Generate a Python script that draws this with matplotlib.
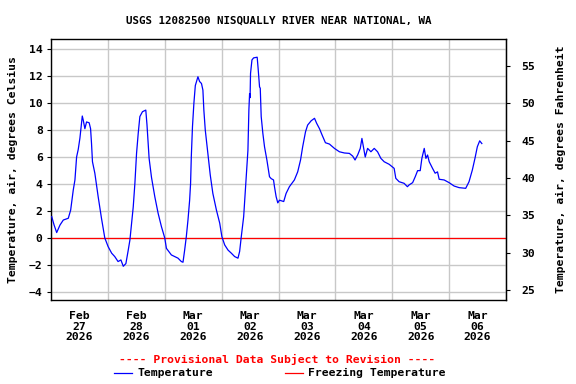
import matplotlib
matplotlib.use("Agg")
import matplotlib.pyplot as plt
import matplotlib.dates as mdates
from matplotlib.lines import Line2D
import pandas as pd

title = "USGS 12082500 NISQUALLY RIVER NEAR NATIONAL, WA"
start = "2026-02-27"
hours = [0.3, 1.3, 2.4, 3.8, 5.2, 7.3, 8.3, 9.4, 10.1, 10.8, 11.5, 12.2, 13.2, 13.6, 14.3, 15.0,
         16.1, 16.7, 17.1, 17.5, 18.5, 19.9, 21.3, 22.7, 24.1, 25.6, 26.9, 28.3, 29.5, 30.5, 31.6,
         32.5, 33.3, 34.0, 34.7, 35.4, 36.1, 36.8, 37.5, 38.6, 40.0, 40.5, 41.4, 42.4, 43.8, 45.2,
         46.6, 48.0, 48.7, 50.8, 52.2, 53.6, 55.0, 55.7, 56.4, 57.1, 57.8, 58.5, 58.9, 59.2, 59.7,
         60.3, 60.9, 62.0, 62.7, 63.5, 64.1, 64.5, 65.1, 66.2, 67.2, 68.3, 69.8, 71.2, 72.1, 73.3,
         74.7, 76.1, 77.5, 78.9, 79.6, 80.3, 81.3, 82.1, 83.1, 83.5, 83.8, 84.0, 84.2, 84.8, 85.5,
         87.0, 87.4, 88.0, 88.3, 88.7, 89.4, 90.1, 91.1, 92.2, 92.9, 93.9, 94.3, 95.0, 95.7, 96.4,
         98.2, 99.2, 100.6, 102.7, 104.1, 105.3, 106.2, 107.4, 108.3, 109.8, 111.2, 112.1, 113.3,
         114.4, 115.8, 117.5, 119.6, 121.7, 123.8, 125.9, 127.3, 128.3, 129.4, 130.5, 131.2, 131.7,
         132.6, 133.6, 135.0, 136.4, 137.8, 139.2, 140.6, 142.7, 144.8, 145.5, 146.9, 149.0, 150.4,
         151.1, 152.6, 153.7, 154.7, 155.8, 156.5, 157.5, 158.2, 158.9, 159.6, 161.0, 162.1, 163.1,
         163.8, 165.9, 168.0, 170.1, 172.2, 175.0, 176.4, 177.8, 178.9, 179.9, 180.9, 181.8]
temps_c = [1.58, 0.96, 0.4, 0.96, 1.33, 1.46, 2.07, 3.56, 4.3, 6.0, 6.57, 7.4, 9.04, 8.74, 8.1, 8.6,
           8.54, 8.1, 7.0, 5.65, 4.8, 3.06, 1.46, 0.0, -0.64, -1.13, -1.38, -1.75, -1.63, -2.1, -1.9,
           -1.0, -0.15, 1.09, 2.3, 4.05, 6.27, 7.75, 9.0, 9.36, 9.48, 8.4, 5.9, 4.5, 3.06, 1.83,
           0.84, 0.0, -0.77, -1.26, -1.38, -1.5, -1.75, -1.8, -0.9, 0.1, 1.33, 2.8, 4.05, 6.0, 8.25,
           10.0, 11.3, 11.95, 11.6, 11.45, 10.96, 9.48, 8.0, 6.27, 4.67, 3.3, 2.07, 1.09, 0.1, -0.52,
           -0.9, -1.13, -1.38, -1.5, -1.0, 0.1, 1.58, 3.8, 6.5, 9.48, 10.7, 10.4, 12.2, 13.2, 13.35,
           13.4, 12.57, 11.2, 11.1, 9.0, 7.75, 6.76, 5.78, 4.54, 4.4, 4.3, 3.8, 3.06, 2.6, 2.8,
           2.7, 3.3, 3.8, 4.3, 4.9, 5.78, 6.76, 7.87, 8.37, 8.69, 8.87, 8.5, 8.1,
           7.63, 7.06, 6.96, 6.64, 6.39, 6.3, 6.27, 6.07, 5.78, 6.15, 6.64, 7.38, 6.9,
           6.0, 6.64, 6.39, 6.64, 6.39, 5.9, 5.65, 5.46, 5.16, 4.42, 4.17, 4.05, 3.8,
           3.93, 4.1, 4.54, 4.99, 4.99, 5.9, 6.64, 5.9, 6.15, 5.65, 5.16, 4.8, 4.9,
           4.35, 4.3, 4.1, 3.85, 3.73, 3.68, 4.17, 5.04, 5.9, 6.76, 7.2, 7.0]
freezing_c = 0.0
left_ticks = [-4, -2, 0, 2, 4, 6, 8, 10, 12, 14]
right_ticks_f = [25, 30, 35, 40, 45, 50, 55]

FONT = "DejaVu Sans Mono"
fs = 8.2

times = pd.Timestamp(start) + pd.to_timedelta(hours, unit="h")
t0 = pd.Timestamp(start)
t1 = t0 + pd.Timedelta(days=8)

fig = plt.figure(figsize=(5.76, 3.84), dpi=100)
ax = fig.add_axes([51 / 576, 1 - 300 / 384, 455 / 576, 261 / 384])

ax.axhline(freezing_c, color="#ff0000", lw=0.9, zorder=2)
ax.plot(times, temps_c, color="#0000ff", lw=0.9, zorder=3)

ax.set_xlim(t0, t1)
ax.set_ylim(-4.6, 14.75)
ax.set_yticks(left_ticks)
ax.grid(True, color="#c8c8c8", lw=1.0, zorder=0)
ax.set_axisbelow(True)

ax.xaxis.set_major_locator(mdates.DayLocator())
ax.xaxis.set_major_formatter(plt.NullFormatter())
ax.xaxis.set_minor_locator(mdates.HourLocator(byhour=[12]))
ax.xaxis.set_minor_formatter(mdates.DateFormatter("%b\n%d\n%Y"))
ax.tick_params(axis="x", which="major", length=0)
ax.tick_params(axis="x", which="minor", length=0, pad=8)
ax.tick_params(axis="y", length=3, direction="out", pad=3)
for lab in ax.get_xticklabels(minor=True) + ax.get_yticklabels():
    lab.set_fontfamily(FONT)
    lab.set_fontweight("bold")
    lab.set_fontsize(fs)
for lab in ax.get_xticklabels(minor=True):
    lab.set_linespacing(1.05)

for s in ax.spines.values():
    s.set_color("black")
    s.set_linewidth(1.0)

ax.set_ylabel("Temperature, air, degrees Celsius", fontfamily=FONT, fontweight="bold",
              fontsize=fs, labelpad=8)

sec = ax.secondary_yaxis("right", functions=(lambda c: c * 9 / 5 + 32, lambda f: (f - 32) * 5 / 9))
sec.set_yticks(right_ticks_f)
sec.tick_params(length=3, direction="out", pad=8)
for lab in sec.get_yticklabels():
    lab.set_fontfamily(FONT)
    lab.set_fontweight("bold")
    lab.set_fontsize(fs)
sec.set_ylabel("Temperature, air, degrees Fahrenheit", fontfamily=FONT, fontweight="bold",
               fontsize=fs, labelpad=15)

fig.text(0.5 * (51 + 506) / 576, 1 - 20.5 / 384, title, ha="center", va="center",
         fontfamily=FONT, fontweight="bold", fontsize=7.8)

fig.text(277.5 / 576, 1 - 359 / 384, "---- Provisional Data Subject to Revision ----",
         ha="center", va="center", color="#ff0000", fontfamily=FONT, fontweight="bold", fontsize=fs)

ly = 1 - 373 / 384
fig.add_artist(Line2D([114 / 576, 132 / 576], [ly, ly], color="#0000ff", lw=0.9))
fig.text(137.5 / 576, ly, "Temperature", ha="left", va="center",
         fontfamily=FONT, fontweight="bold", fontsize=fs)
fig.add_artist(Line2D([285 / 576, 303 / 576], [ly, ly], color="#ff0000", lw=0.9))
fig.text(308 / 576, ly, "Freezing Temperature", ha="left", va="center",
         fontfamily=FONT, fontweight="bold", fontsize=fs)

fig.savefig("out.png", dpi=100)
